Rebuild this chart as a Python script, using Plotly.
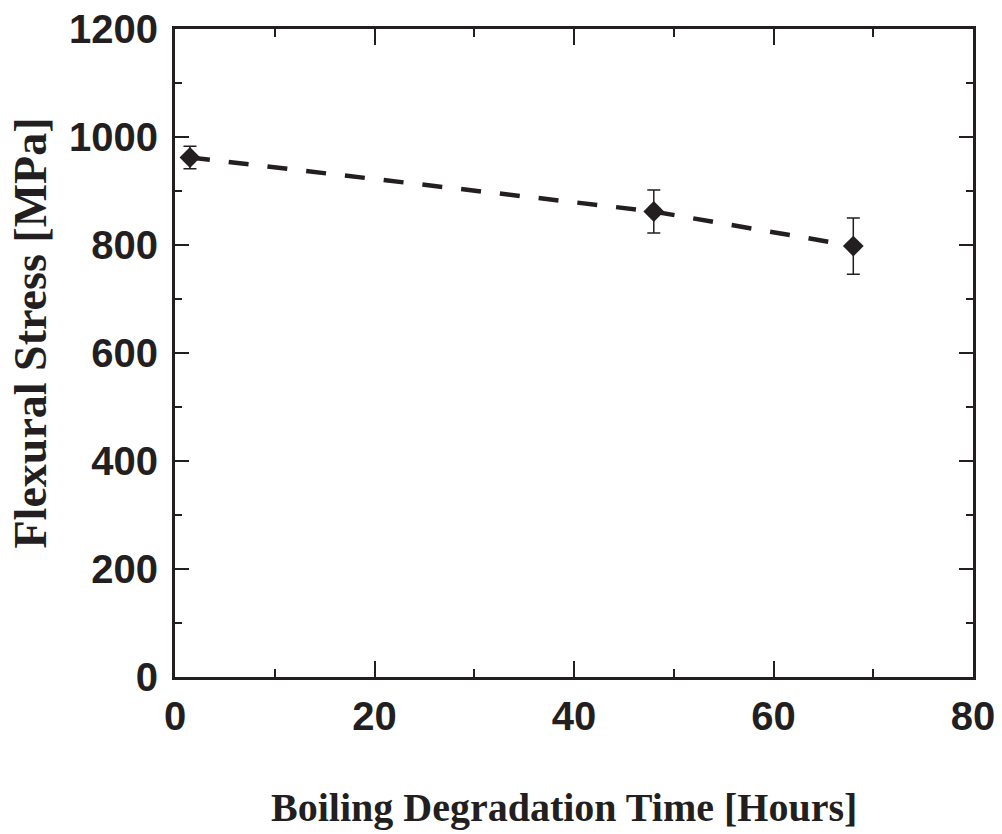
import plotly.graph_objects as go

time_hours = [1.5, 48.0, 68.0]
stress_mpa = [962, 862, 798]
stress_err = [21, 40, 52]

x_ticks = [0, 20, 40, 60, 80]
y_ticks = [0, 200, 400, 600, 800, 1000, 1200]

x_title = "Boiling Degradation Time [Hours]"
y_title = "Flexural Stress [MPa]"

ink = "#231f20"
tick_font = dict(family="Liberation Sans, Arial, sans-serif", size=40, color=ink)
serif = "Liberation Serif, Times New Roman, serif"

fig = go.Figure()
fig.add_trace(go.Scatter(
    x=time_hours, y=stress_mpa,
    mode="lines+markers",
    line=dict(color=ink, width=4.5, dash="20px,19px"),
    marker=dict(symbol="diamond", size=16, color=ink),
    error_y=dict(type="data", array=stress_err, color=ink, thickness=1.5, width=6.5),
    showlegend=False,
))

fig.update_layout(
    width=1002, height=834,
    margin=dict(l=175, r=29, t=29, b=157),
    paper_bgcolor="white", plot_bgcolor="white",
    annotations=[
        dict(text=f"<b>{x_title}</b>", xref="paper", yref="paper", x=0.487, y=-0.202,
             xanchor="center", yanchor="middle", showarrow=False,
             font=dict(family=serif, size=40, color=ink)),
        dict(text=f"<b>{y_title}</b>", xref="paper", yref="paper", x=-0.181, y=0.531,
             xanchor="center", yanchor="middle", showarrow=False, textangle=-90,
             font=dict(family=serif, size=46, color=ink)),
    ],
)
fig.update_xaxes(
    range=[0, 80], tickvals=x_ticks, ticktext=[f"<b>{v}</b>" for v in x_ticks],
    ticks="inside", ticklen=16, tickwidth=2, tickcolor=ink,
    minor=dict(dtick=10, ticks="inside", ticklen=8, tickwidth=2, tickcolor=ink, showgrid=False),
    showline=True, linecolor=ink, linewidth=3, mirror="allticks", automargin=False,
    showgrid=False, zeroline=False, tickfont=tick_font, ticklabelstandoff=2,
)
fig.update_yaxes(
    range=[0, 1200], tickvals=y_ticks, ticktext=[f"<b>{v}</b>" for v in y_ticks],
    ticks="inside", ticklen=14, tickwidth=2, tickcolor=ink,
    minor=dict(dtick=100, ticks="inside", ticklen=7, tickwidth=2, tickcolor=ink, showgrid=False),
    showline=True, linecolor=ink, linewidth=3, mirror="allticks", automargin=False,
    showgrid=False, zeroline=False, tickfont=tick_font, ticklabelstandoff=6,
)

fig.write_html("out.html")
